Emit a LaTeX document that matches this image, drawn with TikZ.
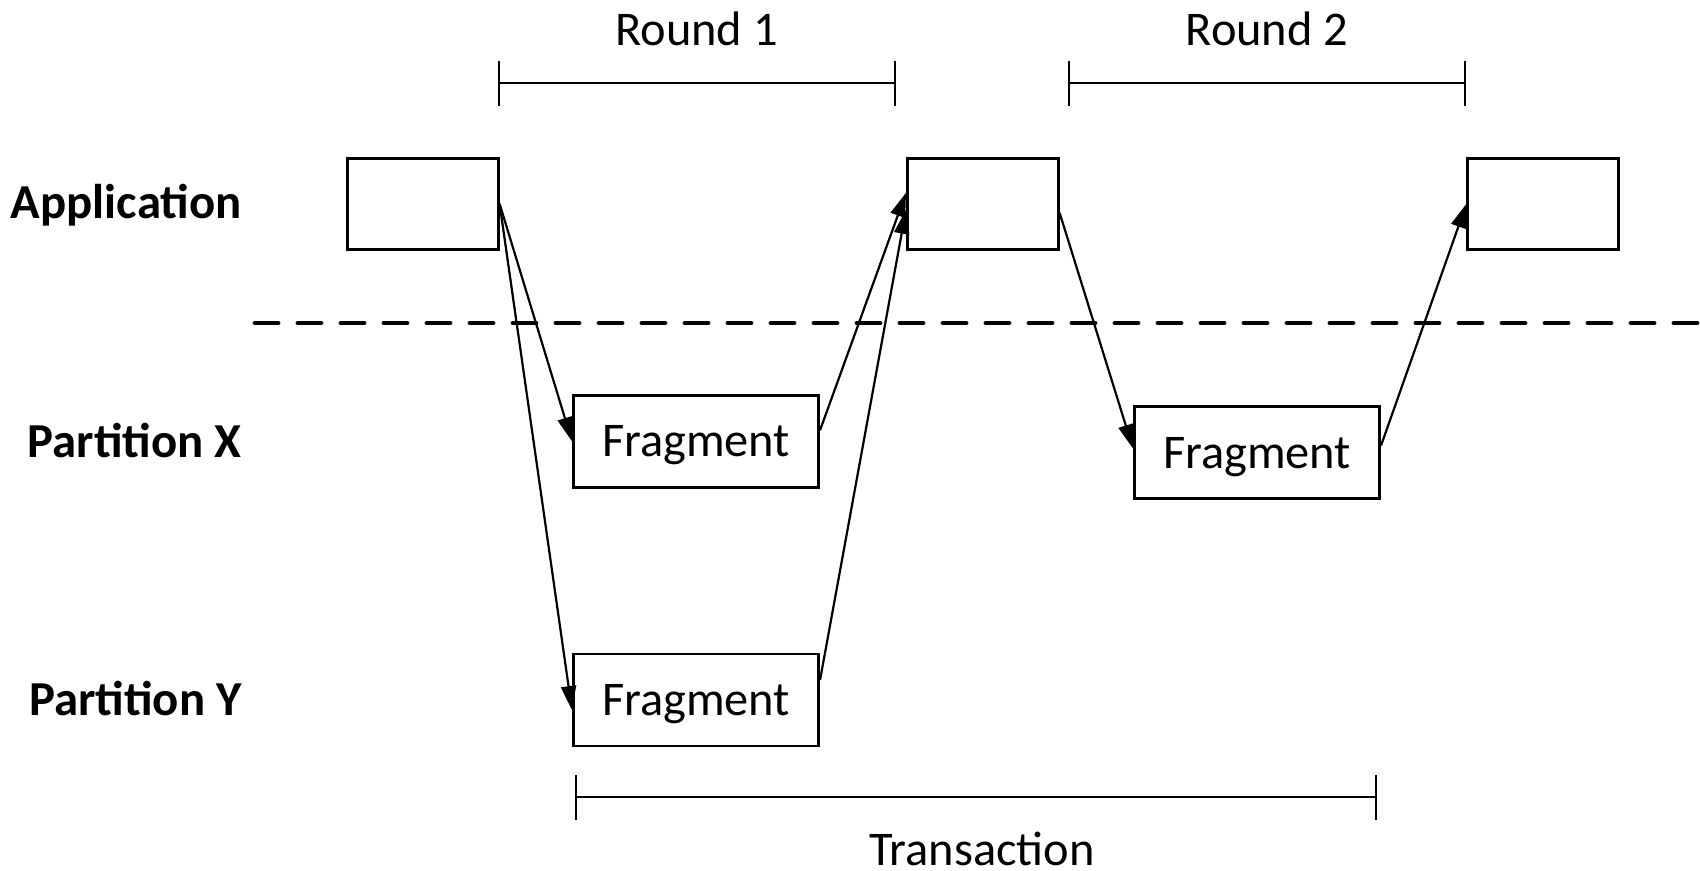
\documentclass[tikz,border=0pt]{standalone}
\usepackage{fontspec}
\setmainfont{Carlito}
\usetikzlibrary{arrows.meta,calc}
\begin{document}
\begin{tikzpicture}[x=0.5pt,y=-0.5pt,
  every node/.style={font=\fontsize{24.2}{29}\selectfont},
  appbox/.style={draw,line width=1.3pt,minimum width=75.5pt,minimum height=45.5pt,inner sep=0pt},
  fragbox/.style={draw,line width=1.3pt,minimum width=122.75pt,minimum height=46pt,inner sep=0pt,text depth=0pt},
  rowlabel/.style={anchor=base east,inner sep=0pt,font=\fontsize{24.4}{29}\selectfont\bfseries},
  caption/.style={anchor=base,inner sep=0pt},
  msg/.style={line width=1.1pt,-{Triangle[length=12pt,width=7.5pt]}},
  span/.style={line width=1pt,{Bar[width=22.5pt]}-{Bar[width=22.5pt]}},
  divider/.style={line width=2.4pt,line cap=round,dash pattern=on 11.5pt off 10pt}]
\useasboundingbox (0,0) rectangle (1700,871);

% application steps
\node[appbox] (app1) at (422.8,203.8) {};
\node[appbox] (app2) at (982.8,203.8) {};
\node[appbox] (app3) at (1543.2,203.8) {};

% fragments executed at the partitions
\node[fragbox] (fx1) at (696,441.2) {Fragment};
\node[fragbox] (fy)  at (696,700)   {Fragment};
\node[fragbox] (fx2) at (1257,452.5) {Fragment};

% row labels
\node[rowlabel] (lapp) at (242,219)   {Application};
\node[rowlabel] (lpx)  at (242,457.5) {Partition X};
\node[rowlabel] (lpy)  at (242,715.5) {Partition Y};

% boundary between application and partitions
\coordinate (dl) at (255,323);
\coordinate (dr) at (1712,323);
\draw[divider] (dl) -- (dr);

% rounds
\coordinate (r1a) at (497.6,83.5);
\coordinate (r1b) at (895.5,83.5);
\draw[span] (r1a) -- (r1b);
\node[caption] (r1) at (696.5,46) {Round 1};

\coordinate (r2a) at (1068,83.5);
\coordinate (r2b) at (1466,83.5);
\draw[span] (r2a) -- (r2b);
\node[caption] (r2) at (1267,46) {Round 2};

% whole transaction
\coordinate (ta) at (574.6,797);
\coordinate (tb) at (1377,797);
\draw[span] (ta) -- (tb);
\node[caption] (tr) at (982,865) {Transaction};

% messages
\draw[msg] (app1.east) -- (fx1.west);
\draw[msg] (app1.east) -- ($(fy.west)+(0,10)$);
\draw[msg] ($(fx1.east)+(0,-11)$) -- ($(app2.west)+(0,-11)$);
\draw[msg] ($(fy.east)+(0,-20)$) -- ($(app2.west)+(0,6)$);
\draw[msg] ($(app2.east)+(0,9)$) -- ($(fx2.west)+(0,-4)$);
\draw[msg] ($(fx2.east)+(0,-7)$) -- (app3.west);
\end{tikzpicture}
\end{document}
